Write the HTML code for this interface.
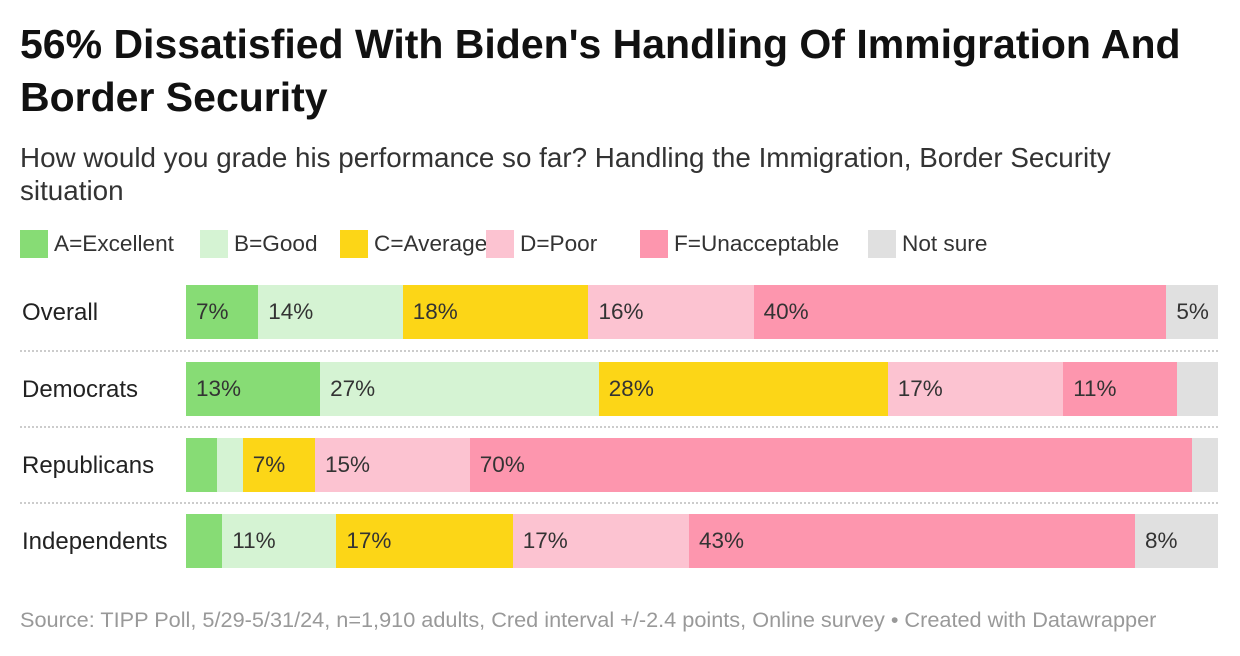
<!DOCTYPE html>
<html><head><meta charset="utf-8">
<style>
body{margin:0;width:1240px;height:656px;background:#fff;font-family:"Liberation Sans",Arial,sans-serif;color:#222;position:relative;overflow:hidden}
.abs{position:absolute}
h1{position:absolute;left:20px;top:18px;margin:0;font-size:41px;line-height:53px;font-weight:bold;width:1210px;color:#111}
.sub{left:20px;top:141px;font-size:27.8px;line-height:33px;color:#333;width:1110px}
.leg{top:230px;font-size:22.6px;line-height:28px;color:#333;white-space:nowrap}
.sw{display:inline-block;width:28px;height:28px;vertical-align:top;margin-right:6px}
.foot{left:20px;top:607px;font-size:21.7px;color:#999;white-space:nowrap}
.rl{left:22px;font-size:24px;color:#222}
.seg{position:absolute;height:54px}
.lbl{position:absolute;font-size:22.5px;color:#333;line-height:54px;white-space:nowrap}
.sep{position:absolute;left:20px;width:1198px;border-top:2px dotted #ccc;height:0}
</style></head><body>
<h1>56% Dissatisfied With Biden's Handling Of Immigration And Border Security</h1>
<div class="abs sub">How would you grade his performance so far? Handling the Immigration, Border Security situation</div>
<div id="legend"></div>
<div id="chart"></div>
<div class="abs foot">Source: TIPP Poll, 5/29-5/31/24, n=1,910 adults, Cred interval +/-2.4 points, Online survey • Created with Datawrapper</div>
<script>
const categories=["Overall","Democrats","Republicans","Independents"];
const seriesNames=["A=Excellent","B=Good","C=Average","D=Poor","F=Unacceptable","Not sure"];
const excellent=[7,13,3,3.5];
const good=[14,27,2.5,11];
const average=[18,28,7,17];
const poor=[16,17,15,17];
const unacceptable=[40,11,70,43];
const notSure=[5,4,2.5,8];
const colors=["#87dc75","#d5f3d3","#fcd617","#fcc3d1","#fd96ae","#e0e0e0"];
const legendX=[20,200,340,486,640,868];
const series=[excellent,good,average,poor,unacceptable,notSure];
const X0=186,W=1032,rowTop=[285,362,438,514];
const xs=v=>v/100*W;
const leg=document.getElementById('legend');
seriesNames.forEach((n,i)=>{
 const d=document.createElement('div');d.className='abs leg';d.style.left=legendX[i]+'px';
 
 
 d.innerHTML='<span class="sw" style="background:'+colors[i]+'"></span>'+n;
 leg.appendChild(d);
});
const ch=document.getElementById('chart');
categories.forEach((c,r)=>{
 const y=rowTop[r];
 const l=document.createElement('div');l.className='abs rl';l.style.top=(y+14)+'px';l.textContent=c;
 
 
 ch.appendChild(l);
 if(r>0){const s=document.createElement('div');s.className='sep';s.style.top=(y-12)+'px';
 
 
 ch.appendChild(s);}
 const total=series.reduce((a,arr)=>a+arr[r],0);
 let cum=0;
 series.forEach((arr,i)=>{
  const v=arr[r];const x=X0+xs(cum/total*100);const w=xs(v/total*100);cum+=v;
  const b=document.createElement('div');b.className='seg';
  b.style.left=x+'px';b.style.top=y+'px';b.style.width=(w+0.5)+'px';b.style.background=colors[i];
  
  
  ch.appendChild(b);
  if(w>50){const t=document.createElement('div');t.className='lbl';t.style.left=(x+10)+'px';t.style.top=y+'px';
   t.textContent=Math.round(v)+'%';
   
   
   ch.appendChild(t);}
 });
});
</script>
</body></html>
